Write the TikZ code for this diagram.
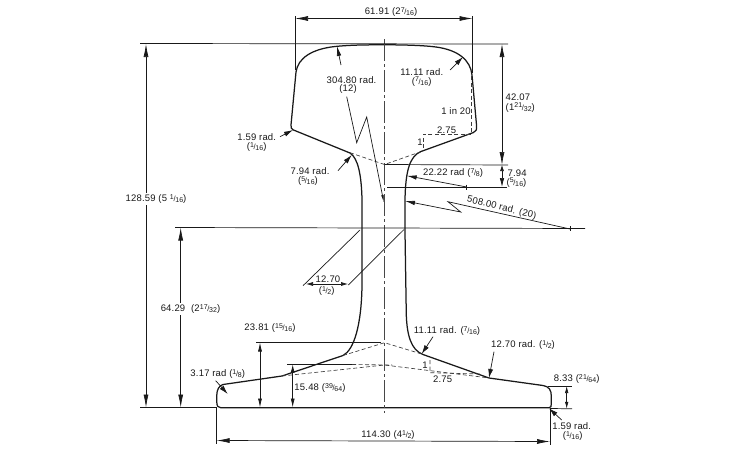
\documentclass[tikz,border=0pt]{standalone}
\usepackage{fontspec}
\setmainfont[LetterSpace=2]{Liberation Sans}
\usetikzlibrary{arrows.meta}
\newcommand{\fr}[2]{\raisebox{2.2pt}{\fontsize{7}{7}\selectfont #1}\kern-0.3pt{\fontsize{7.5}{7}\selectfont/}\kern-0.3pt\raisebox{-1.2pt}{\fontsize{7}{7}\selectfont #2}}
\definecolor{ink}{gray}{0.1}
\tikzset{
  outline/.style={draw=ink,line width=1.25pt,line join=round},
  thin line/.style={draw=ink,line width=0.7pt},
  dash line/.style={draw=ink!85,line width=0.65pt,dash pattern=on 4pt off 2.5pt},
  axis line/.style={draw=ink!80,line width=0.65pt,dash pattern=on 22pt off 3pt on 3pt off 3pt},
  dim/.style={thin line,{Latex[length=13pt,width=5pt]}-{Latex[length=13pt,width=5pt]}},
  dimshort/.style={thin line,{Latex[length=9pt,width=4pt]}-{Latex[length=9pt,width=4pt]}},
  dimtiny/.style={thin line,{Latex[length=7pt,width=3.6pt]}-{Latex[length=7pt,width=3.6pt]}},
  lead/.style={thin line,-{Latex[length=10pt,width=4.5pt]}},
  lshort/.style={thin line,-{Latex[length=9pt,width=5pt]}},
  lslim/.style={thin line,-{Latex[length=8pt,width=2.5pt]}},
  lbl/.style={inner sep=0.5pt,text=ink,font=\fontsize{9.5}{10}\selectfont,align=center},
  gapped/.style={lbl,fill=white,inner sep=1.5pt}
}
\begin{document}
\begin{tikzpicture}[x=1pt,y=-1pt]
\useasboundingbox (0,0) rectangle (750,450);
\fill[white] (0,0) rectangle (750,450);
% rail profile
\draw[outline]
  (221,407.8) -- (549,407.8)
  .. controls (551,407.8) and (551.3,406) .. (551.3,404)
  -- (551.3,396)
  .. controls (551.3,390) and (549,386.5) .. (543,385.5)
  -- (489,378) -- (423,354.5)
  .. controls (411,350) and (407,335) .. (406.3,315)
  -- (405,232) -- (405,200)
  .. controls (405.5,170) and (410,156) .. (421,151.5)
  -- (473.5,132.5)
  .. controls (476.5,131.5) and (477,129) .. (476.6,126)
  -- (472,75)
  .. controls (470.5,60) and (458,50) .. (436,47)
  .. controls (425,45.5) and (405,44.8) .. (384,44.8)
  .. controls (365,44.8) and (350,45) .. (335,46.5)
  .. controls (312,49) and (298,58) .. (296,72)
  -- (291,125)
  .. controls (290.8,128) and (291.5,129) .. (293,129.8)
  -- (350,153)
  .. controls (358,158) and (361.5,175) .. (362,200)
  -- (362,285)
  .. controls (361.5,325) and (354,350) .. (343,355.5)
  -- (282,376) -- (223,384.5)
  .. controls (219,385.5) and (216.8,390) .. (216.8,395)
  -- (216.8,402)
  .. controls (216.8,406) and (218,407.8) .. (221,407.8);
% axis and long datum lines
\draw[axis line] (384.5,39) -- (384.5,413);
\draw[thin line] (140,43.5) -- (508,44);
\draw[thin line] (175,227.5) -- (585,228.5);
\draw[thin line] (140,407.5) -- (217,407.5);
\draw[thin line] (551,408.5) -- (572,408.8);
\draw[thin line] (384,164.5) -- (508,165);
\draw[thin line] (387,187) -- (507,187);
\draw[thin line] (256,342.5) -- (381,342.5);
\draw[thin line] (287,364.5) -- (352,364.5);
\draw[dash line] (352,364.5) -- (392,365);
\draw[thin line] (548,386) -- (572,386);
% extension lines
\draw[thin line] (295,16) -- (295,70);
\draw[thin line] (472.5,16) -- (472.5,73);
\draw[thin line] (216.7,408) -- (216.7,444);
\draw[thin line] (550,408) -- (550,445);
% dimensions
\draw[dim] (295,18.5) -- (472.5,18.5);
\draw[dim] (216.7,440.5) -- (550,441.5);
\draw[dim] (146,44) -- (146,407.5);
\draw[dim] (180.7,227.5) -- (180.7,407.5);
\draw[dim] (502,44) -- (502,165);
\draw[thin line,-{Latex[length=6pt,width=4pt]}] (502,176) -- (502,165);
\draw[thin line,-{Latex[length=9pt,width=4.5pt]}] (502,176) -- (502,187);
\draw[dimshort] (260,342.5) -- (260,407.5);
\draw[thin line,-{Latex[length=8pt,width=4pt]}] (292.7,374) -- (292.7,364.5);
\draw[thin line,-{Latex[length=9pt,width=4pt]}] (292.7,374) -- (292.7,407.5);
\draw[dimtiny] (566.7,386) -- (566.7,408.8);
% chords and tapers
\draw[dash line] (350,152.7) -- (384.5,164.5) -- (420,152);
\draw[dash line] (343,355.5) -- (384.5,342.7) -- (421.7,354);
\draw[dash line] (282,376) -- (384.5,365) -- (487,377.7);
\draw[dash line] (471.7,76) -- (471.7,134) -- (423,134) -- (423,150);
\draw[dash line] (430,360) -- (430,372.7) -- (480,374);
% radius leaders
\draw[lslim] (346.7,96.7) -- (356.7,142.7) -- (366.7,117) -- (384,203);
\draw[lead] (341,65) -- (337,46);
\draw[lshort] (450,70) -- (463,57);
\draw[lshort] (280,136.7) -- (293,130);
\draw[lshort] (338,170.7) -- (351.7,155);
\draw[lead] (466.7,187) -- (406.7,175.7);
\draw[lead] (570,229) -- (448,201.7) -- (460.7,212) -- (405,201);
\draw[lshort] (433,336.7) -- (421.7,354);
\draw[lshort] (494,351.7) -- (489,378);
\draw[lshort] (215.7,380.7) -- (227.7,394);
\draw[lshort] (561.7,420) -- (549,408.3);
% line-end ticks
\draw[thin line] (466.7,184.5) -- (466.7,189.5);
\draw[thin line] (570,226) -- (570,231);
% web thickness
\draw[thin line] (360,230) -- (303,285.7);
\draw[thin line] (404,229.5) -- (348.3,285);
\draw[thin line,{Latex[length=7pt,width=4pt]}-{Latex[length=7pt,width=4pt]}] (306,284) -- (348,284);
% labels
\node[lbl] (a) at (391,12) {61.91 (2\fr{7}{16})};
\node[gapped] (b) at (156,199) {128.59 (5 \fr{1}{16})};
\node[gapped] (c) at (190.5,309) {64.29 \kern3pt(2\fr{17}{32})};
\node[lbl,anchor=west] (d) at (505,97) {42.07};
\node[lbl,anchor=west] (e) at (505,107.5) {(1\fr{21}{32})};
\node[lbl,anchor=west] (f) at (507,173) {7.94};
\node[lbl,anchor=west] (g) at (506,182.5) {(\fr{5}{16})};
\node[lbl] (h) at (351.5,80) {304.80 rad.};
\node[lbl] (i) at (348,89.5) {(12)};
\node[lbl] (j) at (421.7,72) {11.11 rad.};
\node[lbl] (k) at (421.7,81.5) {(\fr{7}{16})};
\node[lbl] (l) at (456,111) {1 in 20};
\node[lbl] (m) at (446.7,130) {2.75};
\node[lbl] (n) at (420,142) {1};
\node[lbl] (o) at (256.7,136.7) {1.59 rad.};
\node[lbl] (p) at (256.7,146.7) {(\fr{1}{16})};
\node[lbl] (q) at (310,170.7) {7.94 rad.};
\node[lbl] (r) at (308,180.7) {(\fr{5}{16})};
\node[lbl] (s) at (453,173) {22.22 rad (\fr{7}{8})};
\node[lbl,rotate=-14] (t) at (501.7,208) {508.00 rad. (20)};
\node[lbl] (u) at (328,279) {12.70};
\node[lbl] (v) at (326.7,291) {(\fr{1}{2})};
\node[lbl] (w) at (270,328) {23.81 (\fr{15}{16})};
\node[lbl] (x) at (320,387.7) {15.48 (\fr{39}{64})};
\node[lbl] (y) at (217.7,374) {3.17 rad (\fr{1}{8})};
\node[lbl] (z) at (447,330.7) {11.11 rad. (\fr{7}{16})};
\node[lbl] (aa) at (523,345) {12.70 rad. (\fr{1}{2})};
\node[lbl] (ab) at (576.7,379) {8.33 (\fr{21}{64})};
\node[lbl] (ac) at (425,365) {1};
\node[lbl] (ad) at (442.7,379) {2.75};
\node[lbl] (ae) at (571.7,426) {1.59 rad.};
\node[lbl] (af) at (572.7,436) {(\fr{1}{16})};
\node[lbl] (ag) at (388,435) {114.30 (4\fr{1}{2})};
\end{tikzpicture}
\end{document}
